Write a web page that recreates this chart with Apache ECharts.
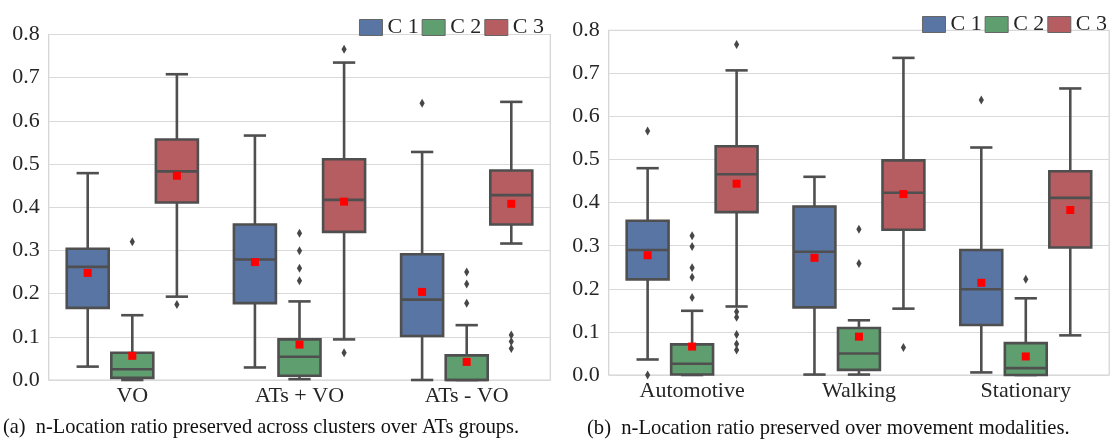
<!DOCTYPE html>
<html>
<head>
<meta charset="utf-8">
<script src="https://cdn.jsdelivr.net/npm/echarts@6/dist/echarts.min.js"></script>
<style>
html,body{margin:0;padding:0;background:#fff;}
#chart{width:1114px;height:443px;}
</style>
</head>
<body>
<div id="chart"></div>
<script>
// ---- Data ----
const groupsA = ['VO', 'ATs + VO', 'ATs - VO'];
const groupsB = ['Automotive', 'Walking', 'Stationary'];
const seriesNames = ['C 1', 'C 2', 'C 3'];
const yTicks = [0, 0.1, 0.2, 0.3, 0.4, 0.5, 0.6, 0.7, 0.8];

// per group: [whiskerLow, q1, median, q3, whiskerHigh, mean]
const a_c1 = [[0.031, 0.167, 0.262, 0.304, 0.479, 0.248], [0.029, 0.178, 0.279, 0.360, 0.566, 0.273], [0.000, 0.102, 0.186, 0.291, 0.528, 0.204]];
const a_c2 = [[0.000, 0.005, 0.025, 0.063, 0.150, 0.056], [0.002, 0.010, 0.054, 0.094, 0.182, 0.082], [0.000, 0.000, 0.000, 0.057, 0.127, 0.042]];
const a_c3 = [[0.193, 0.411, 0.483, 0.557, 0.708, 0.473], [0.094, 0.343, 0.417, 0.511, 0.735, 0.413], [0.316, 0.360, 0.428, 0.485, 0.644, 0.408]];
const a_out1 = [[], [], [0.641]];
const a_out2 = [[0.320], [0.340, 0.299, 0.259, 0.230], [0.250, 0.222, 0.178]];
const a_out3 = [[0.175], [0.766, 0.063], [0.104, 0.089, 0.073]];

const b_c1 = [[0.036, 0.222, 0.290, 0.358, 0.480, 0.278], [0.001, 0.157, 0.286, 0.391, 0.460, 0.272], [0.006, 0.116, 0.199, 0.290, 0.528, 0.214]];
const b_c2 = [[0.000, 0.001, 0.026, 0.071, 0.149, 0.066], [0.001, 0.012, 0.050, 0.109, 0.127, 0.089], [0.000, 0.000, 0.016, 0.074, 0.178, 0.043]];
const b_c3 = [[0.159, 0.378, 0.466, 0.531, 0.707, 0.444], [0.154, 0.337, 0.423, 0.498, 0.736, 0.420], [0.092, 0.296, 0.411, 0.473, 0.665, 0.383]];
const b_out1 = [[0.566, 0.000], [], [0.638]];
const b_out2 = [[0.323, 0.298, 0.249, 0.227, 0.180], [0.338, 0.259], [0.222]];
const b_out3 = [[0.767, 0.147, 0.134, 0.094, 0.072, 0.058], [0.064], []];

const captionA = '(a)  n-Location ratio preserved across clusters over ATs groups.';
const captionB = '(b)  n-Location ratio preserved over movement modalities.';

// ---- Styles ----
const fills = ['#5975a4', '#5f9e6e', '#b55d60'];
const edge = '#4f4f4f';
const LW = 2.6;
const serif = '"Liberation Serif", "Times New Roman", serif';
const gridColor = '#d9d9d9';

function boxRender(k) {
  return function (params, api) {
    const cat = api.value(0);
    const band = api.size([1, 0])[0];
    const w = band * 0.8 / 3;
    const cx = api.coord([cat, 0])[0] + (k - 1) * w;
    const y = i => api.coord([cat, api.value(i)])[1];
    const yLo = y(1), yQ1 = y(2), yMed = y(3), yQ3 = y(4), yHi = y(5), yMean = y(6);
    const ls = { stroke: edge, lineWidth: LW, fill: null };
    const cap = w / 4;
    const bw = w - LW;
    return {
      type: 'group',
      children: [
        { type: 'line', shape: { x1: cx, y1: yQ1, x2: cx, y2: yLo }, style: ls },
        { type: 'line', shape: { x1: cx, y1: yQ3, x2: cx, y2: yHi }, style: ls },
        { type: 'line', shape: { x1: cx - cap, y1: yLo, x2: cx + cap, y2: yLo }, style: ls },
        { type: 'line', shape: { x1: cx - cap, y1: yHi, x2: cx + cap, y2: yHi }, style: ls },
        { type: 'rect', shape: { x: cx - bw / 2, y: yQ3, width: bw, height: yQ1 - yQ3 },
          style: { fill: fills[k], stroke: edge, lineWidth: LW } },
        { type: 'line', shape: { x1: cx - bw / 2, y1: yMed, x2: cx + bw / 2, y2: yMed }, style: ls },
        { type: 'rect', shape: { x: cx - 4, y: yMean - 4, width: 8, height: 8 },
          style: { fill: '#ff0000' } }
      ]
    };
  };
}

function outRender(k) {
  return function (params, api) {
    const cat = api.value(0);
    const band = api.size([1, 0])[0];
    const w = band * 0.8 / 3;
    const cx = api.coord([cat, 0])[0] + (k - 1) * w;
    const cy = api.coord([cat, api.value(1)])[1];
    return {
      type: 'polygon',
      shape: { points: [[cx, cy - 4.5], [cx + 2.6, cy], [cx, cy + 4.5], [cx - 2.6, cy]] },
      style: { fill: '#474747' }
    };
  };
}

function boxData(arr) {
  return arr.map((d, i) => [i, d[0], d[1], d[2], d[3], d[4], d[5]]);
}
function outData(arr) {
  const res = [];
  arr.forEach((vals, i) => vals.forEach(v => res.push([i, v])));
  return res;
}

const panels = [
  { boxes: [a_c1, a_c2, a_c3], outs: [a_out1, a_out2, a_out3] },
  { boxes: [b_c1, b_c2, b_c3], outs: [b_out1, b_out2, b_out3] }
];

const series = [];
panels.forEach((p, gi) => {
  for (let k = 0; k < 3; k++) {
    series.push({
      type: 'custom', name: seriesNames[k], xAxisIndex: gi, yAxisIndex: gi,
      renderItem: boxRender(k), data: boxData(p.boxes[k]),
      itemStyle: { color: fills[k] },
      encode: { x: 0, y: [1, 2, 3, 4, 5, 6] }, silent: true
    });
    series.push({
      type: 'custom', name: 'out' + gi + k, xAxisIndex: gi, yAxisIndex: gi,
      renderItem: outRender(k), data: outData(p.outs[k]),
      encode: { x: 0, y: 1 }, silent: true
    });
  }
});

function yAxis(gi) {
  return {
    type: 'value', gridIndex: gi, min: 0, max: 0.8, interval: 0.1,
    axisLine: { show: false }, axisTick: { show: false },
    axisLabel: { margin: 9, fontFamily: serif, fontSize: 22, color: '#262626',
      formatter: v => yTicks.includes(Math.round(v * 10) / 10) ? v.toFixed(1) : '' },
    splitLine: { show: true, lineStyle: { color: gridColor, width: 1.2 } }
  };
}
function xAxis(gi, cats) {
  return {
    type: 'category', gridIndex: gi, data: cats, boundaryGap: true,
    axisLine: { show: false }, axisTick: { show: false },
    axisLabel: { margin: 5, fontFamily: serif, fontSize: 22, color: '#262626' },
    splitLine: { show: false }
  };
}
function legend(right, top) {
  return {
    right: right, top: top, orient: 'horizontal', itemWidth: 23, itemHeight: 16, itemGap: 3,
    icon: 'rect', selectedMode: false,
    textStyle: { fontFamily: serif, fontSize: 22, color: '#262626', lineHeight: 22 },
    data: seriesNames.map((n, k) => ({ name: n, itemStyle: { color: fills[k], borderColor: '#666', borderWidth: 1 } }))
  };
}

const chart = echarts.init(document.getElementById('chart'), null, { renderer: 'canvas' });
chart.setOption({
  backgroundColor: '#ffffff',
  animation: false,
  grid: [
    { left: 48.7, top: 34.5, width: 501.6, height: 345.5, show: true, borderColor: '#d2d2d2', borderWidth: 1.2, backgroundColor: 'transparent' },
    { left: 608.7, top: 30.3, width: 500.5, height: 344.7, show: true, borderColor: '#d2d2d2', borderWidth: 1.2, backgroundColor: 'transparent' }
  ],
  xAxis: [xAxis(0, groupsA), xAxis(1, groupsB)],
  yAxis: [yAxis(0), yAxis(1)],
  legend: [legend(1114 - 549, 11.5), legend(1114 - 1112, 8.5)],
  series: series,
  graphic: [
    { type: 'text', left: 3, top: 418, style: { text: captionA, font: '20.4px ' + serif, fill: '#111' } },
    { type: 'text', left: 587, top: 418, style: { text: captionB, font: '20.6px ' + serif, fill: '#111' } }
  ]
});
</script>
</body>
</html>
